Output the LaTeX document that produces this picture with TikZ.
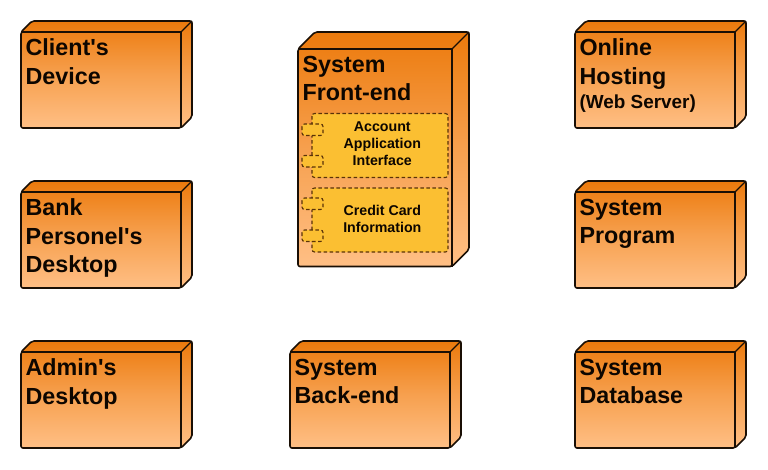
\documentclass[tikz,border=0pt]{standalone}
\usepackage{fontspec}
\newfontfamily\plainsans{Liberation Sans}[Ligatures=ResetAll]
\definecolor{orangetop}{HTML}{EC7A0C}
\definecolor{orangebot}{HTML}{FFBF85}
\definecolor{compfill}{HTML}{FBBF32}
\definecolor{compline}{HTML}{5A3208}
\definecolor{edge}{HTML}{1A0F05}
\tikzset{
  x=1pt,y=-1pt,
  devshade/.style={top color=orangetop,bottom color=orangebot,middle color=orangetop!45!orangebot,shading angle=0},
  devline/.style={draw=edge,line width=1.6pt,line join=round,rounded corners=2pt},
  devinner/.style={draw=edge,line width=1.3pt,line join=round},
  devtext/.style={anchor=north west,inner sep=0pt,align=left,font=\plainsans\bfseries\fontsize{23.3}{28.5}\selectfont,text=black!95!orange},
  comptext/.style={anchor=center,inner sep=0pt,align=center,font=\plainsans\bfseries\fontsize{14.2}{17}\selectfont,text=black!95!orange},
  compbox/.style={draw=compline,fill=compfill,line width=1.1pt,dash pattern=on 3.5pt off 2.5pt,rounded corners=2.5pt},
}
% #1 name, #2 x left, #3 y back top, #4 front width, #5 y front top, #6 y bottom, #7 depth, #8 text
\newcommand{\devbox}[8]{%
  \path[devshade,rounded corners=2pt] (#2,#5) -- (#2+#7,#3) -- (#2+#4+#7,#3) -- (#2+#4+#7,#6-#5+#3) -- (#2+#4,#6) -- (#2,#6) -- cycle;
  \path[devline] (#2,#5) -- (#2+#7,#3) -- (#2+#4+#7,#3) -- (#2+#4+#7,#6-#5+#3) -- (#2+#4,#6) -- (#2,#6) -- cycle;
  \draw[devinner] (#2,#5) -- (#2+#4,#5) -- (#2+#4,#6);
  \draw[devinner] (#2+#4,#5) -- (#2+#4+#7,#3);
  \node[devtext] (#1) at (#2+4.4,#5+6.8) {#8};
}
% #1 name, #2 y top, #3 y bottom, #4 tab 1 top, #5 tab 2 top, #6 text
\newcommand{\compbox}[6]{%
  \path[compbox] (312,#2) rectangle (448,#3);
  \path[compbox] (302,#4) rectangle (323,#4+11.5);
  \path[compbox] (302,#5) rectangle (323,#5+11.5);
  \node[comptext] (#1) at (382.3,#2/2+#3/2-1.5) {#6};
}
\begin{document}
\begin{tikzpicture}
\useasboundingbox (0,0) rectangle (768,469);
\devbox{client}{21}{21}{160}{32}{128}{11}{Client's\\Device}
\devbox{bank}{21}{181}{160}{192}{288}{11}{Bank\\Personel's\\Desktop}
\devbox{admin}{21}{341}{160}{352}{448}{11}{Admin's\\Desktop}
\devbox{front}{298}{32}{154}{49}{266.5}{17}{System\\Front-end}
\devbox{back}{290}{341}{160}{352}{448}{11}{System\\Back-end}
\devbox{hosting}{575}{21}{160}{32}{128}{11}{Online\\Hosting\\[-4pt]{\fontsize{18.9}{20}\selectfont (Web Server)}}
\devbox{program}{575}{181}{160}{192}{288}{11}{System\\Program}
\devbox{database}{575}{341}{160}{352}{448}{11}{System\\Database}
\compbox{account}{113.5}{177.5}{124}{155.5}{Account\\Application\\Interface}
\compbox{credit}{188}{252}{198}{230}{Credit Card\\Information}
\end{tikzpicture}
\end{document}
